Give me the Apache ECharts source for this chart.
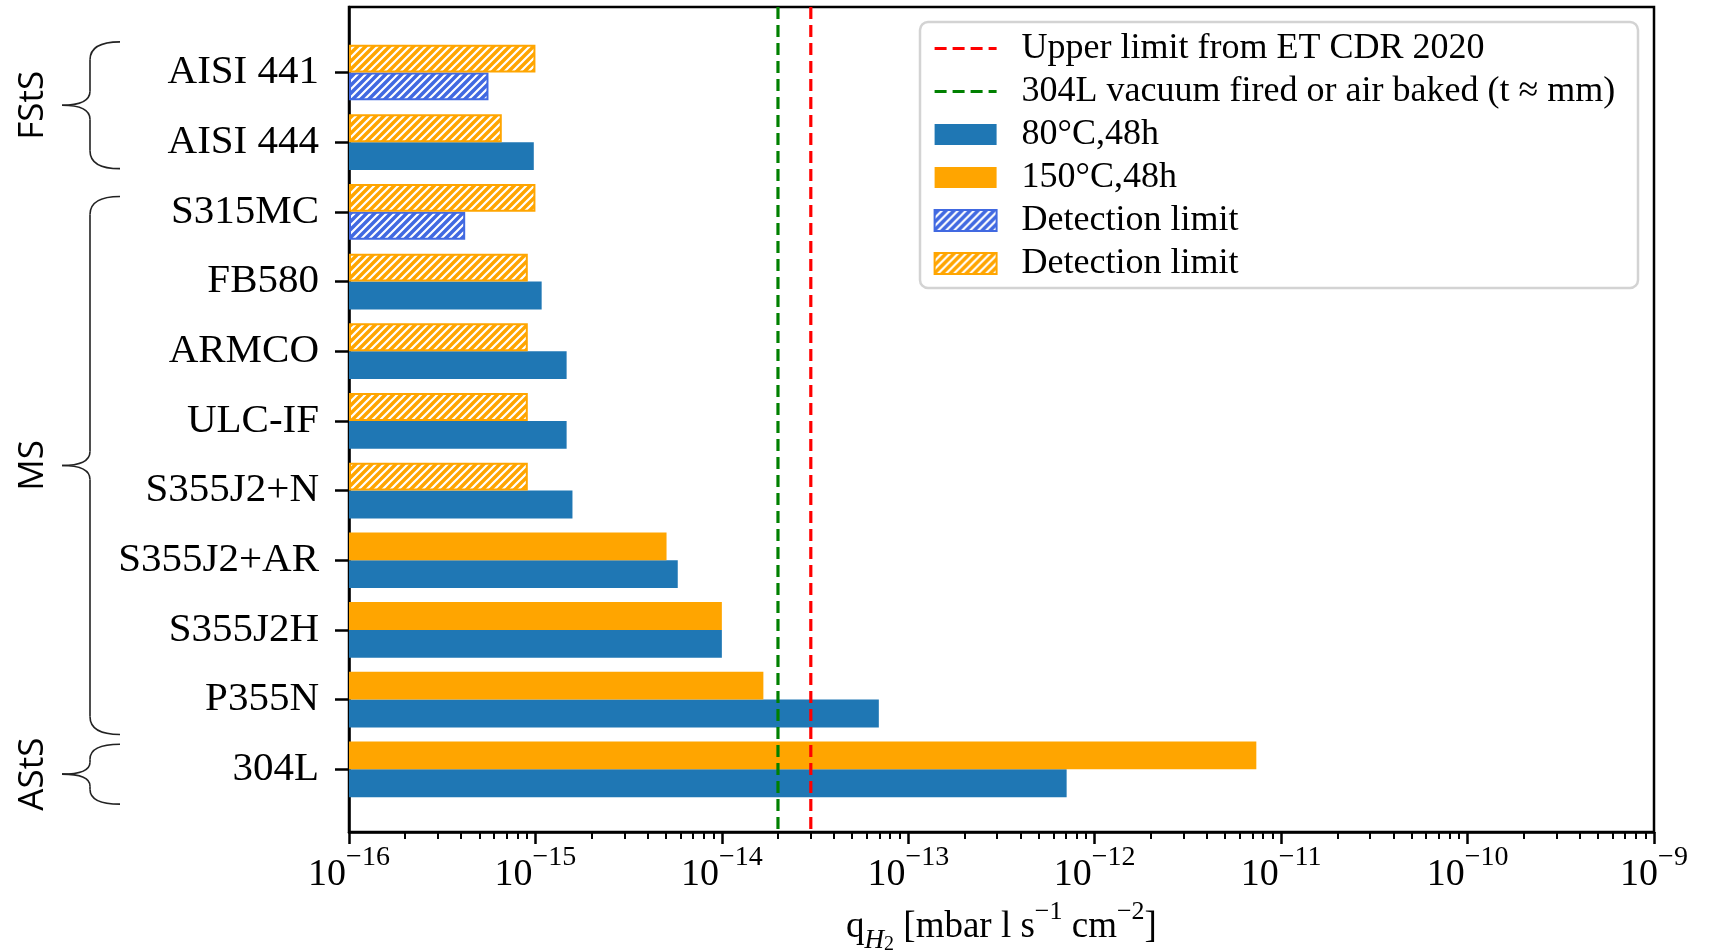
<!DOCTYPE html>
<html><head><meta charset="utf-8">
<script src="https://cdn.jsdelivr.net/npm/echarts@6/dist/echarts.min.js"></script>
<style>html,body{margin:0;padding:0;background:#fff}#c{width:1716px;height:952px}</style>
</head><body><div id="c"></div>
<script>
// ---- data ----
const categories = ['AISI 441','AISI 444','S315MC','FB580','ARMCO','ULC-IF','S355J2+N','S355J2+AR','S355J2H','P355N','304L'];
const q80  = [5.6e-16, 9.8e-16, 4.2e-16, 1.08e-15, 1.47e-15, 1.47e-15, 1.58e-15, 5.8e-15, 1.0e-14, 6.95e-14, 7.07e-13];
const q150 = [1.0e-15, 6.6e-16, 1.0e-15, 9.1e-16, 9.1e-16, 9.1e-16, 9.1e-16, 5.05e-15, 1.0e-14, 1.67e-14, 7.36e-12];
const det80  = [1,0,1,0,0,0,0,0,0,0,0];   // 1 = detection limit (hatched)
const det150 = [1,1,1,1,1,1,1,0,0,0,0];
const upperLimit = 3e-14;
const vacuumFired = 2e-14;
const xTickExponents = [-16,-15,-14,-13,-12,-11,-10,-9];
const groups = ['FStS','MS','AStS'];
const groupStart = [-0.44, 1.78, 9.64];
const groupEnd   = [1.38, 9.50, 10.50];
const legendNames = ['Upper limit from ET CDR 2020','304L vacuum fired or air baked (t \u2248 mm)','80\u00b0C,48h','150\u00b0C,48h','Detection limit','Detection limit '];

// ---- layout constants ----
const XMIN = 1e-16, XMAX = 1e-9, YMIN = -0.94, YMAX = 10.9, BAR = 0.4;
const SERIF = '"Liberation Serif", "Times New Roman", serif';
const C_BLUE = '#1f77b4', C_ORANGE = '#ffa500', C_RBLUE = '#4169e1';
const DASH = [12, 6];

function hatch(base){
  const s = 8, c = document.createElement('canvas');
  c.width = c.height = s;
  const g = c.getContext('2d');
  g.fillStyle = base; g.fillRect(0,0,s,s);
  g.strokeStyle = '#fff'; g.lineWidth = 2.2; g.beginPath();
  g.moveTo(-1, s+1); g.lineTo(s+1, -1);
  g.moveTo(-1, 1); g.lineTo(1, -1);
  g.moveTo(s-1, s+1); g.lineTo(s+1, s-1);
  g.stroke();
  return c;
}
const hatchBlue = {image: hatch(C_RBLUE), repeat: 'repeat'};
const hatchOrange = {image: hatch(C_ORANGE), repeat: 'repeat'};

function pick(vals, det, want, off){
  const out = [];
  vals.forEach((v,i)=>{ if (det[i] === want) out.push([v, i, off]); });
  return out;
}
function barRender(fill, stroke, lw){
  return function(params, api){
    const v = api.value(0), y0 = api.value(1) + api.value(2);
    const a = api.coord([XMIN, y0]), b = api.coord([v, y0 + BAR]);
    const h = lw/2;
    return {type:'rect', shape:{x:a[0]+h, y:a[1]+h, width:b[0]-a[0]-2*h, height:b[1]-a[1]-2*h},
      style:{fill: fill, stroke: stroke, lineWidth: lw}};
  };
}
function barSeries(name, data, fill, stroke, lw){
  return {type:'custom', name, data, renderItem: barRender(fill, stroke, lw),
    encode:{x:0, y:1}, itemStyle:{color: fill, borderColor: stroke || fill, borderWidth: lw}, z:2, silent:true};
}
const minorTicks = [];
for (let e = -16; e < -9; e++) for (let k = 2; k <= 9; k++) minorTicks.push(k * Math.pow(10, e));

const chart = echarts.init(document.getElementById('c'), null, {renderer:'canvas'});
const yTicks = categories.map((c,i)=>i);
const option = {
  animation:false,
  backgroundColor:'#fff',
  grid:{left:349, right:62, top:7, bottom:120, show:true, borderColor:'#000', borderWidth:2.5,
        backgroundColor:'transparent', containLabel:false, outerBoundsMode:'none'},
  xAxis:[{
    type:'log', logBase:10, min:XMIN, max:XMAX, interval:1,
    axisLine:{show:true, onZero:false, lineStyle:{color:'#000', width:2.5}},
    axisTick:{show:true, length:12, lineStyle:{color:'#000', width:2.5}},
    splitLine:{show:false}, minorTick:{show:false},
    axisLabel:{margin:12, color:'#000',
      formatter:function(v){ const e = Math.round(Math.log10(v)); return '{b|10}{s|\u2212' + Math.abs(e) + '}'; },
      rich:{b:{fontFamily:SERIF, fontSize:38, lineHeight:50, verticalAlign:'bottom', color:'#000'},
            s:{fontFamily:SERIF, fontSize:28, lineHeight:34, verticalAlign:'top', color:'#000'}}},
    name:'{t|q}{h|H}{h2|2}{t| [mbar l s}{sup|\u22121}{t| cm}{sup|\u22122}{t|]}',
    nameLocation:'middle', nameGap:65,
    nameTextStyle:{rich:{
      t:{fontFamily:SERIF, fontSize:37, lineHeight:56, verticalAlign:'middle', color:'#000'},
      h:{fontFamily:SERIF, fontSize:27, fontStyle:'italic', lineHeight:40, verticalAlign:'bottom', color:'#000'},
      h2:{fontFamily:SERIF, fontSize:20, lineHeight:26, verticalAlign:'bottom', color:'#000'},
      sup:{fontFamily:SERIF, fontSize:26, lineHeight:36, verticalAlign:'top', color:'#000'}}}
  },{
    type:'log', logBase:10, min:XMIN, max:XMAX, position:'bottom',
    axisLine:{show:false, onZero:false}, axisLabel:{show:false}, splitLine:{show:false},
    axisTick:{show:true, customValues:minorTicks, length:7, lineStyle:{color:'#000', width:2}}
  }],
  yAxis:{
    type:'value', inverse:true, min:YMIN, max:YMAX,
    axisLine:{show:true, onZero:false, lineStyle:{color:'#000', width:2.5}},
    axisTick:{show:true, customValues:yTicks, length:14, lineStyle:{color:'#000', width:2.5}},
    axisLabel:{customValues:yTicks, margin:30, color:'#000', fontFamily:SERIF, fontSize:41,
      formatter:function(v){ return categories[Math.round(v)]; }},
    splitLine:{show:false}
  },
  legend:{
    orient:'vertical', left:933, top:27, itemWidth:62, itemHeight:21, itemGap:0, padding:0,
    textStyle:{fontFamily:SERIF, fontSize:36, color:'#000', lineHeight:43, padding:[0,0,0,20]},
    data:[
      {name:legendNames[0], itemStyle:{opacity:0}, lineStyle:{color:'#ff0000', width:3.2, type:DASH}},
      {name:legendNames[1], itemStyle:{opacity:0}, lineStyle:{color:'#008000', width:3.2, type:DASH}},
      {name:legendNames[2], icon:'rect'},
      {name:legendNames[3], icon:'rect'},
      {name:legendNames[4], icon:'rect'},
      {name:legendNames[5], icon:'rect'}
    ]
  },
  series:[
    barSeries(legendNames[2], pick(q80, det80, 0, 0), C_BLUE, null, 0),
    barSeries(legendNames[3], pick(q150, det150, 0, -BAR), C_ORANGE, null, 0),
    barSeries(legendNames[4], pick(q80, det80, 1, 0), hatchBlue, C_RBLUE, 2),
    barSeries(legendNames[5], pick(q150, det150, 1, -BAR), hatchOrange, C_ORANGE, 2),
    {type:'line', name:legendNames[0], data:[[upperLimit, YMIN],[upperLimit, YMAX]], symbol:'none', silent:true, z:5,
      lineStyle:{color:'#ff0000', width:3.2, type:DASH}, itemStyle:{color:'#ff0000'}},
    {type:'line', name:legendNames[1], data:[[vacuumFired, YMIN],[vacuumFired, YMAX]], symbol:'none', silent:true, z:5,
      lineStyle:{color:'#008000', width:3.2, type:DASH}, itemStyle:{color:'#008000'}}
  ]
};
chart.setOption(option);

// ---- annotations: legend frame and group braces ----
const gfx = [{type:'rect', z:-1, shape:{x:920, y:22, width:718, height:266, r:8},
  style:{fill:'#fff', stroke:'#d3d3d3', lineWidth:2.5}}];
const braceStyle = {fill:null, stroke:'#222', lineWidth:1.6};
groups.forEach((g, i)=>{
  const top = chart.convertToPixel({yAxisIndex:0}, groupStart[i]);
  const bot = chart.convertToPixel({yAxisIndex:0}, groupEnd[i]);
  const mid = (top + bot)/2, half = (bot - top)/2;
  const c1 = Math.min(18, half*0.5), c2 = Math.min(14, half*0.4);
  const xe = 120, xv = 90, xt = 62;
  const bz = (x1,y1,cx1,cy1,cx2,cy2,x2,y2)=>({type:'bezierCurve',
    shape:{x1,y1,cpx1:cx1,cpy1:cy1,cpx2:cx2,cpy2:cy2,x2,y2}, style:braceStyle});
  gfx.push(bz(xe, top, xe-20, top, xv, top+c1*0.35, xv, top+c1));
  gfx.push({type:'line', shape:{x1:xv, y1:top+c1, x2:xv, y2:mid-c2}, style:braceStyle});
  gfx.push(bz(xv, mid-c2, xv, mid-c2*0.35, xv-10, mid, xt, mid));
  gfx.push(bz(xt, mid, xv-10, mid, xv, mid+c2*0.35, xv, mid+c2));
  gfx.push({type:'line', shape:{x1:xv, y1:mid+c2, x2:xv, y2:bot-c1}, style:braceStyle});
  gfx.push(bz(xv, bot-c1, xv, bot-c1*0.35, xe-20, bot, xe, bot));
  gfx.push({type:'text', x:33, y:mid, rotation:Math.PI/2,
    style:{text:g, font:'35px "Open Sans"', fill:'#000', align:'center', verticalAlign:'middle'}});
});
chart.setOption({graphic:gfx});
</script></body></html>
